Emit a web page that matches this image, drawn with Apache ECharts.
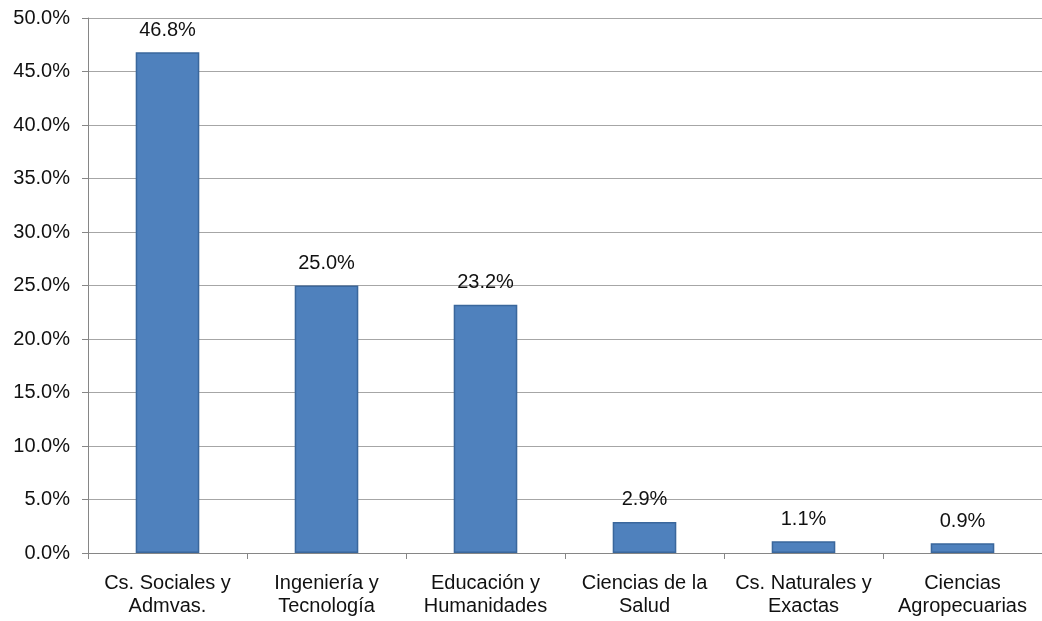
<!DOCTYPE html>
<html><head><meta charset="utf-8">
<script src="https://cdn.jsdelivr.net/npm/echarts@6/dist/echarts.min.js"></script>
<style>html,body{margin:0;padding:0;background:#fff}#c{width:1042px;height:621px}</style>
</head><body><div id="c"></div>
<script>
const categories = ["Cs. Sociales y\nAdmvas.", "Ingeniería y\nTecnología", "Educación y\nHumanidades", "Ciencias de la\nSalud", "Cs. Naturales y\nExactas", "Ciencias\nAgropecuarias"];
const values = [46.8, 25.0, 23.2, 2.9, 1.1, 0.9];
const yMin = 0, yMax = 50, yStep = 5;
const FONT = '"Liberation Sans Narrow", "Arial Narrow", "Liberation Sans", sans-serif';
const chart = echarts.init(document.getElementById('c'));
chart.setOption({
  animation: false,
  grid: {left: 88, width: 963, top: 18, bottom: 68, containLabel: false},
  xAxis: {
    type: 'category', data: categories,
    axisLine: {lineStyle: {color: '#868686', width: 1}},
    axisTick: {show: true, alignWithLabel: false, length: 6, lineStyle: {color: '#868686'}},
    axisLabel: {color: '#111', fontFamily: FONT, fontSize: 20, lineHeight: 23, margin: 19, interval: 0}
  },
  yAxis: {
    type: 'value', min: yMin, max: yMax, interval: yStep,
    axisLine: {show: true, lineStyle: {color: '#868686', width: 1}},
    axisTick: {show: true, length: 6, lineStyle: {color: '#868686'}},
    splitLine: {lineStyle: {color: '#a6a6a6', width: 1}},
    axisLabel: {color: '#111', fontFamily: FONT, fontSize: 20, margin: 18, formatter: v => v.toFixed(1) + '%'}
  },
  series: [{
    type: 'bar', data: values, barWidth: '40%',
    itemStyle: {color: '#4f81bd', borderColor: '#3a679c', borderWidth: 1.5},
    label: {show: true, position: 'top', distance: 12, color: '#111', fontFamily: FONT, fontSize: 20, formatter: p => p.value.toFixed(1) + '%'}
  }]
});
</script></body></html>
